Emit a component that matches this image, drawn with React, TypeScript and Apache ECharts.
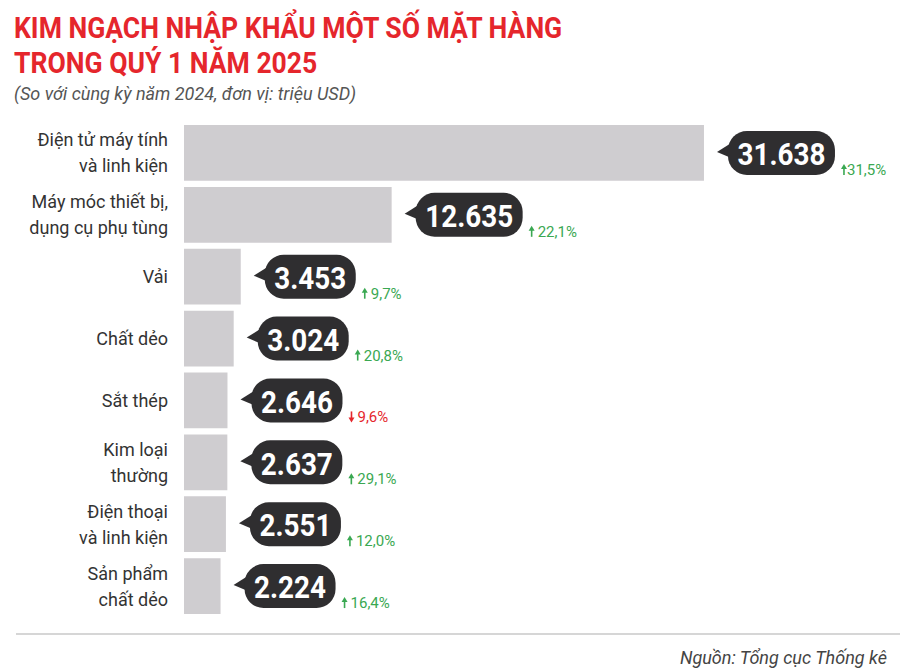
import React, { useEffect, useRef } from "react";
import * as echarts from "echarts";

const categories = [
  "Điện tử máy tính\nvà linh kiện",
  "Máy móc thiết bị,\ndụng cụ phụ tùng",
  "Vải",
  "Chất dẻo",
  "Sắt thép",
  "Kim loại\nthường",
  "Điện thoại\nvà linh kiện",
  "Sản phẩm\nchất dẻo",
];
const values = [31638, 12635, 3453, 3024, 2646, 2637, 2551, 2224];
const valueLabels = ["31.638", "12.635", "3.453", "3.024", "2.646", "2.637", "2.551", "2.224"];
const growth = [31.5, 22.1, 9.7, 20.8, -9.6, 29.1, 12.0, 16.4];
const growthLabels = ["31,5%", "22,1%", "9,7%", "20,8%", "9,6%", "29,1%", "12,0%", "16,4%"];

const titleLines = ["KIM NGẠCH NHẬP KHẨU MỘT SỐ MẶT HÀNG", "TRONG QUÝ 1 NĂM 2025"];
const subtitle = "(So với cùng kỳ năm 2024, đơn vị: triệu USD)";
const source = "Nguồn: Tổng cục Thống kê";

const RED = "#e5262c";
const GREEN = "#3aa852";
const BOX = "#2f2e30";
const BAR = "#cfcdd0";

export default function App() {
  const ref = useRef<HTMLDivElement>(null);
  useEffect(() => {
    if (!ref.current) return;
    const chart = echarts.init(ref.current, undefined, { renderer: "svg" });
    const customData = values.map((v, i) => [v, i]);
    chart.setOption({
      animation: false,
      backgroundColor: "#ffffff",
      grid: { left: 184, right: 58.6, top: 122, bottom: 55 },
      xAxis: {
        type: "value",
        min: 0,
        max: 40000,
        show: false,
      },
      yAxis: {
        type: "category",
        data: categories,
        inverse: true,
        axisLine: { show: false },
        axisTick: { show: false },
        splitLine: { show: false },
        axisLabel: {
          margin: 16,
          fontFamily: "Roboto",
          fontSize: 18,
          lineHeight: 26,
          color: "#333333",
          align: "right",
        },
      },
      graphic: [
        {
          type: "text",
          x: 14,
          y: 28,
          scaleX: 0.885,
          style: {
            text: titleLines[0],
            font: "bold 30px Roboto",
            fill: RED,
            textVerticalAlign: "middle",
          },
        },
        {
          type: "text",
          x: 14,
          y: 63,
          scaleX: 0.885,
          style: {
            text: titleLines[1],
            font: "bold 30px Roboto",
            fill: RED,
            textVerticalAlign: "middle",
          },
        },
        {
          type: "text",
          x: 14,
          y: 93,
          style: {
            text: subtitle,
            font: "italic 18px Roboto",
            fill: "#555555",
            textVerticalAlign: "middle",
          },
        },
        {
          type: "line",
          shape: { x1: 16, y1: 634, x2: 900, y2: 634 },
          style: { stroke: "#d6d6d6", lineWidth: 2 },
        },
        {
          type: "text",
          x: 887,
          y: 657,
          style: {
            text: source,
            font: "italic 18px Roboto",
            fill: "#444444",
            textAlign: "right",
            textVerticalAlign: "middle",
          },
        },
      ],
      series: [
        {
          type: "bar",
          data: values,
          barCategoryGap: "10%",
          itemStyle: { color: BAR },
          silent: true,
        },
        {
          type: "custom",
          data: customData,
          encode: { x: 0, y: 1 },
          silent: true,
          renderItem: (params: any, api: any) => {
            const i = params.dataIndex;
            const pt = api.coord([api.value(0), api.value(1)]);
            const x = pt[0];
            const cy = pt[1];
            const label = valueLabels[i];
            const nDigits = label.replace(/\./g, "").length;
            const w = nDigits * 16 + 7 + 20;
            const tip = x + 13;
            const boxL = tip + 11;
            const boxR = boxL + w;
            const up = growth[i] >= 0;
            const gColor = up ? GREEN : RED;
            const ax = boxR + 9;
            const aTop = cy + 11;
            const aBot = cy + 22;
            const arrowShaft = up
              ? { x1: ax, y1: aTop + 3, x2: ax, y2: aBot }
              : { x1: ax, y1: aTop, x2: ax, y2: aBot - 3 };
            const arrowHead = up
              ? [[ax, aTop], [ax - 3, aTop + 5], [ax + 3, aTop + 5]]
              : [[ax, aBot], [ax - 3, aBot - 5], [ax + 3, aBot - 5]];
            return {
              type: "group",
              children: [
                {
                  type: "polygon",
                  shape: {
                    points: [
                      [tip, cy - 1],
                      [boxL + 8, cy - 13],
                      [boxL + 8, cy + 7],
                    ],
                  },
                  style: { fill: BOX },
                },
                {
                  type: "rect",
                  shape: { x: boxL, y: cy - 22, width: w, height: 44, r: 19 },
                  style: { fill: BOX },
                },
                {
                  type: "text",
                  x: boxL + w / 2,
                  y: cy + 1,
                  scaleX: 0.87,
                  style: {
                    text: label,
                    font: "bold 32px Roboto",
                    fill: "#ffffff",
                    textAlign: "center",
                    textVerticalAlign: "middle",
                  },
                },
                {
                  type: "line",
                  shape: arrowShaft,
                  style: { stroke: gColor, lineWidth: 1.6 },
                },
                {
                  type: "polygon",
                  shape: { points: arrowHead },
                  style: { fill: gColor },
                },
                {
                  type: "text",
                  x: i === 0 ? boxR + 12 : boxR + 15,
                  y: cy + 17,
                  style: {
                    text: growthLabels[i],
                    font: "15px Roboto",
                    fill: gColor,
                    textAlign: "left",
                    textVerticalAlign: "middle",
                  },
                },
              ],
            };
          },
        },
      ],
    });
    return () => chart.dispose();
  }, []);
  return (
    <div
      ref={ref}
      style={{ position: "fixed", left: 0, top: 0, width: 900, height: 672 }}
    />
  );
}
